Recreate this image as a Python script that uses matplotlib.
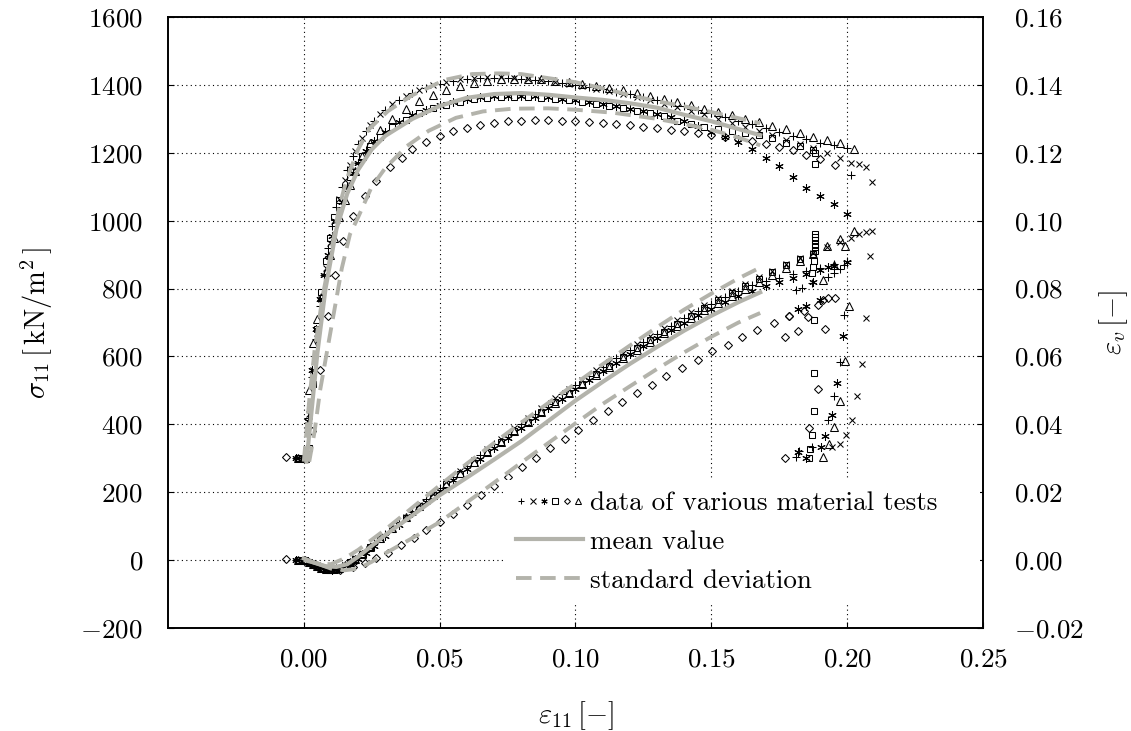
import matplotlib
matplotlib.use("Agg")
import matplotlib.pyplot as plt
from matplotlib.lines import Line2D
from matplotlib.legend_handler import HandlerTuple
from matplotlib.ticker import FuncFormatter, MultipleLocator

plt.rcParams['font.family'] = 'serif'
plt.rcParams['font.serif'] = ['cmr10']
plt.rcParams['mathtext.fontset'] = 'cm'
plt.rcParams['axes.formatter.use_mathtext'] = True

# strain grids used by the test series
eps_a = [-0.003, 0.000, 0.0015, 0.003, 0.0045, 0.006, 0.0075, 0.009, 0.0105, 0.012, 0.014, 0.016,
         0.018, 0.020, 0.023, 0.026, 0.030,
         0.035, 0.040, 0.045, 0.050, 0.055, 0.060, 0.065, 0.070, 0.075, 0.080,
         0.085, 0.090, 0.095, 0.100, 0.105, 0.110, 0.115, 0.120, 0.125, 0.130,
         0.135, 0.140, 0.145, 0.150, 0.155, 0.160, 0.165, 0.170, 0.175, 0.180,
         0.185, 0.190, 0.195, 0.200]
eps_b = [-0.002, 0.0005, 0.002, 0.0035, 0.005, 0.0065, 0.008, 0.0095, 0.011, 0.013, 0.015, 0.017,
         0.019, 0.0215, 0.0245, 0.028, 0.0325,
         0.0375, 0.0425, 0.0475, 0.0525, 0.0575, 0.0625, 0.0675, 0.0725, 0.0775, 0.0825,
         0.0875, 0.0925, 0.0975, 0.1025, 0.1075, 0.1125, 0.1175, 0.1225, 0.1275, 0.1325,
         0.1375, 0.1425, 0.1475, 0.1525, 0.1575, 0.1625, 0.1675, 0.1725, 0.1775, 0.1825,
         0.1875, 0.1925, 0.1975]

# --- sigma_11 [kN/m2] of the six tests ---
plus_sig = [300, 300, 420, 540, 650, 750, 840, 920, 985, 1040, 1100, 1150, 1190, 1225, 1265, 1295, 1325,
            1355, 1375, 1392, 1403, 1411, 1417, 1420, 1421, 1420, 1418,
            1415, 1411, 1406, 1400, 1394, 1387, 1380, 1372, 1364, 1355,
            1346, 1337, 1327, 1317, 1306, 1295, 1284, 1273, 1262, 1250,
            1240, 1230, 1222, 1215]
plus_sig_tail_eps = [0.2015, 0.1989, 0.1974, 0.1953, 0.193, 0.187, 0.1824, 0.181]
plus_sig_tail = [1135, 723, 583, 483, 412, 332, 321, 304]

cross_sig = [300, 300, 430, 560, 670, 770, 860, 935, 1000, 1065, 1120, 1165, 1205, 1245, 1282, 1313, 1343,
             1368, 1386, 1400, 1410, 1417, 1421, 1423, 1423, 1421, 1418,
             1414, 1409, 1403, 1396, 1389, 1381, 1373, 1364, 1355, 1345,
             1335, 1324, 1313, 1301, 1289, 1277, 1265, 1252, 1239, 1226,
             1213, 1198, 1185]
cross_sig_tail_eps = [0.2015, 0.2044, 0.207, 0.209, 0.207, 0.2054, 0.2037, 0.2017, 0.1996, 0.1973, 0.1945]
cross_sig_tail = [1171, 1167, 1159, 1113, 714, 579, 483, 412, 370, 341, 332]

star_sig = [300, 300, 410, 560, 680, 770, 840, 900, 955, 1000, 1055, 1100, 1140, 1170, 1205, 1235, 1262,
            1290, 1310, 1327, 1340, 1350, 1358, 1363, 1366, 1367, 1367,
            1366, 1363, 1359, 1355, 1350, 1344, 1337, 1330, 1322, 1314,
            1305, 1295, 1280, 1262, 1248, 1232, 1212, 1185, 1160, 1128,
            1097, 1073, 1050, 1021]
star_sig_tail_eps = [0.1983, 0.1963, 0.1944, 0.192, 0.1903, 0.1818, 0.185]
star_sig_tail = [660, 522, 429, 365, 333, 318, 300]

square_sig = [300, 300, 330, 520, 680, 790, 880, 950, 1010, 1060, 1095, 1130, 1160, 1190, 1220, 1247, 1275,
              1298, 1316, 1331, 1342, 1351, 1358, 1362, 1364, 1365, 1364,
              1362, 1359, 1355, 1350, 1345, 1338, 1331, 1324, 1316, 1307,
              1294, 1285, 1277, 1270, 1264, 1258, 1252, 1243, 1230, 1220,
              1208]
square_sig_tail_eps = [0.188, 0.188, 0.1879, 0.1879, 0.1879, 0.187, 0.1865, 0.186]
square_sig_tail = [1200, 1167, 706, 550, 439, 370, 326, 300]

diamond_sig_eps = [-0.0065, 0.003, 0.006, 0.009, 0.0115, 0.0143, 0.018, 0.0224, 0.0267, 0.0316, 0.036,
                   0.040, 0.045, 0.050, 0.055, 0.060, 0.065, 0.070, 0.075, 0.080, 0.085,
                   0.090, 0.095, 0.100, 0.105, 0.110, 0.115, 0.120, 0.125, 0.130, 0.135,
                   0.140, 0.145, 0.150, 0.155, 0.160, 0.165, 0.170, 0.175, 0.180, 0.185,
                   0.190, 0.1955]
diamond_sig = [303, 380, 560, 720, 840, 941, 1015, 1073, 1118, 1157, 1186,
               1211, 1233, 1250, 1263, 1273, 1282, 1289, 1293, 1295, 1296,
               1296, 1295, 1293, 1290, 1287, 1284, 1281, 1277, 1272, 1268,
               1263, 1258, 1252, 1246, 1240, 1234, 1226, 1218, 1208, 1195,
               1182, 1165]
diamond_sig_tail_eps = [0.1787, 0.182, 0.177, 0.1894, 0.186, 0.177]
diamond_sig_tail = [718, 676, 656, 503, 388, 300]

tri_sig = [300, 300, 500, 640, 710, 775, 850, 900, 950, 1010, 1060, 1105, 1145, 1190, 1230, 1268, 1300,
           1330, 1352, 1370, 1385, 1397, 1406, 1412, 1416, 1418, 1418,
           1416, 1413, 1409, 1404, 1398, 1391, 1384, 1376, 1367, 1358,
           1349, 1340, 1330, 1320, 1310, 1300, 1290, 1280, 1270, 1259,
           1248, 1238, 1230]
tri_sig_tail_eps = [0.2026, 0.2007, 0.1993, 0.1973, 0.1952, 0.1934, 0.1912]
tri_sig_tail = [1212, 748, 586, 469, 392, 341, 304]

# --- volumetric strain eps_v [-] of the six tests ---
plus_ev = [0.0, 0.0, -0.0004, -0.001, -0.0015, -0.002, -0.0023, -0.0025, -0.0026, -0.0024, -0.0018, -0.001,
           0.0, 0.001, 0.003, 0.005, 0.0078,
           0.0112, 0.0146, 0.0180, 0.0213, 0.0246, 0.0278, 0.0310, 0.0341, 0.0372, 0.0402,
           0.0431, 0.0460, 0.0488, 0.0515, 0.0542, 0.0568, 0.0594, 0.0619, 0.0643, 0.0667,
           0.0690, 0.0712, 0.0734, 0.0755, 0.0775, 0.0794, 0.0810, 0.0822, 0.0832, 0.0842,
           0.0852, 0.0862, 0.0872, 0.0882]
plus_ev_tail_eps = [0.1989, 0.1974, 0.1953, 0.193, 0.187, 0.1835, 0.181]
plus_ev_tail = [0.0870, 0.0858, 0.0845, 0.0835, 0.0815, 0.0803, 0.0797]

cross_ev = [0.0, 0.0, -0.0005, -0.001, -0.0015, -0.002, -0.0023, -0.0025, -0.0025, -0.0022, -0.0015, -0.0005,
            0.0005, 0.002, 0.004, 0.0065, 0.0095,
            0.0128, 0.0162, 0.0196, 0.0229, 0.0262, 0.0295, 0.0327, 0.0358, 0.0389, 0.0419,
            0.0448, 0.0477, 0.0505, 0.0532, 0.0559, 0.0585, 0.0611, 0.0636, 0.0660, 0.0684,
            0.0707, 0.0730, 0.0752, 0.0773, 0.0794, 0.0814, 0.0834, 0.0853, 0.0871, 0.0889,
            0.0906, 0.0922, 0.0937]
cross_ev_tail_eps = [0.2015, 0.2044, 0.207, 0.209, 0.2085]
cross_ev_tail = [0.0950, 0.0960, 0.0966, 0.0970, 0.0897]

star_ev = [0.0, 0.0, -0.0005, -0.001, -0.0016, -0.002, -0.0024, -0.0027, -0.0028, -0.0027, -0.0022, -0.0015,
           -0.0006, 0.0004, 0.0022, 0.0042, 0.0070,
           0.0104, 0.0138, 0.0171, 0.0204, 0.0236, 0.0268, 0.0299, 0.0330, 0.0360, 0.0390,
           0.0419, 0.0448, 0.0476, 0.0503, 0.0530, 0.0556, 0.0582, 0.0607, 0.0631, 0.0655,
           0.0678, 0.0700, 0.0721, 0.0741, 0.0760, 0.0777, 0.0793, 0.0807, 0.0820, 0.0832,
           0.0843, 0.0855, 0.0866, 0.0878]
star_ev_tail_eps = [0.193, 0.1875, 0.19, 0.185, 0.1818]
star_ev_tail = [0.0865, 0.0818, 0.0765, 0.0750, 0.0740]

square_ev = [0.0, 0.0, -0.0006, -0.0012, -0.0018, -0.0023, -0.0026, -0.0028, -0.0027, -0.0023, -0.0016, -0.0007,
             0.0003, 0.0018, 0.0038, 0.0062, 0.0092,
             0.0125, 0.0158, 0.0191, 0.0223, 0.0255, 0.0287, 0.0318, 0.0349, 0.0379, 0.0408,
             0.0437, 0.0465, 0.0493, 0.0520, 0.0547, 0.0573, 0.0599, 0.0624, 0.0649, 0.0673,
             0.0697, 0.0720, 0.0743, 0.0765, 0.0787, 0.0808, 0.0829, 0.0849, 0.0868, 0.0886,
             0.0902]
square_ev_tail_eps = [0.188, 0.188, 0.188, 0.188, 0.188, 0.188, 0.1878, 0.1876, 0.1872]
square_ev_tail = [0.0912, 0.0922, 0.0932, 0.0942, 0.0952, 0.0962, 0.0880, 0.0865, 0.0845]

diamond_ev_eps = [-0.0064, 0.004, 0.009, 0.0135, 0.018, 0.0225, 0.0267, 0.031, 0.0359, 0.0405,
                  0.0451, 0.050, 0.0549, 0.060, 0.0653, 0.0702, 0.075, 0.0804, 0.0855, 0.0907,
                  0.096, 0.1011, 0.1066, 0.1118, 0.1173, 0.1228, 0.1283, 0.1335, 0.1392, 0.145,
                  0.1504, 0.156, 0.1614, 0.1669, 0.1732, 0.1787]
diamond_ev = [0.0003, -0.0012, -0.0025, -0.0028, -0.002, -0.0008, 0.0006, 0.0022, 0.0044, 0.0066,
              0.0088, 0.0112, 0.0137, 0.0163, 0.0191, 0.0218, 0.0245, 0.0273, 0.0301, 0.0329,
              0.0356, 0.0382, 0.0412, 0.0438, 0.0465, 0.0491, 0.0515, 0.0541, 0.0565, 0.0591,
              0.0616, 0.0635, 0.0657, 0.0679, 0.0698, 0.0718]
diamond_ev_tail_eps = [0.184, 0.1857, 0.1894, 0.1912, 0.1931, 0.1954, 0.192]
diamond_ev_tail = [0.0735, 0.0716, 0.0752, 0.0765, 0.0773, 0.0773, 0.0682]

tri_ev = [0.0, 0.0, -0.0005, -0.0011, -0.0017, -0.0022, -0.0025, -0.0027, -0.0026, -0.0022, -0.0015, -0.0006,
          0.0004, 0.0019, 0.0039, 0.0064, 0.0094,
          0.0127, 0.0160, 0.0193, 0.0225, 0.0257, 0.0288, 0.0319, 0.0349, 0.0379, 0.0408,
          0.0436, 0.0464, 0.0491, 0.0518, 0.0544, 0.0570, 0.0595, 0.0620, 0.0644, 0.0668,
          0.0691, 0.0714, 0.0736, 0.0757, 0.0778, 0.0798, 0.0819, 0.0840, 0.0861, 0.0882,
          0.0903, 0.0924, 0.0945]
tri_ev_tail_eps = [0.2026, 0.1993, 0.195, 0.191]
tri_ev_tail = [0.0969, 0.0925, 0.0870, 0.0824]

# --- mean value and standard deviation curves ---
mean_sig_eps = [0.001, 0.003, 0.005, 0.008, 0.012, 0.016, 0.020, 0.025, 0.030, 0.040, 0.050, 0.060,
                0.070, 0.080, 0.090, 0.100, 0.110, 0.120, 0.130, 0.140, 0.150, 0.160, 0.168]
mean_sig = [290, 450, 610, 800, 975, 1080, 1150, 1210, 1250, 1300, 1338, 1362,
            1373, 1376, 1371, 1363, 1356, 1346, 1333, 1312, 1293, 1270, 1252]
std_hi_sig_eps = [0.000, 0.002, 0.004, 0.007, 0.010, 0.013, 0.016, 0.020, 0.024, 0.031, 0.040, 0.052,
                  0.062, 0.072, 0.080, 0.090, 0.100, 0.110, 0.120, 0.130, 0.140, 0.150, 0.160, 0.168]
std_hi_sig = [290, 470, 620, 780, 905, 1040, 1127, 1210, 1270, 1323, 1370, 1415,
              1432, 1434, 1432, 1420, 1408, 1390, 1370, 1352, 1337, 1320, 1302, 1287]
std_lo_sig_eps = [0.002, 0.004, 0.006, 0.008, 0.010, 0.012, 0.014, 0.017, 0.020, 0.025, 0.030, 0.038,
                  0.046, 0.056, 0.066, 0.077, 0.090, 0.100, 0.114, 0.130, 0.140, 0.150, 0.160, 0.168]
std_lo_sig = [290, 380, 500, 590, 680, 770, 860, 960, 1010, 1100, 1155, 1220,
              1265, 1303, 1322, 1330, 1331, 1327, 1318, 1300, 1285, 1268, 1245, 1222]

mean_ev_eps = [0.000, 0.004, 0.008, 0.012, 0.016, 0.020, 0.025, 0.030, 0.040, 0.050, 0.060,
               0.070, 0.080, 0.090, 0.100, 0.110, 0.120, 0.130, 0.140, 0.150, 0.160, 0.168]
mean_ev = [0.0005, -0.0008, -0.0018, -0.002, -0.0012, 0.0010, 0.0042, 0.0074, 0.0132, 0.0191, 0.0243,
           0.0296, 0.0350, 0.0410, 0.0470, 0.0525, 0.0578, 0.0628, 0.0676, 0.0720, 0.0760, 0.0789]
std_hi_ev_eps = [0.000, 0.005, 0.010, 0.015, 0.020, 0.030, 0.040, 0.050, 0.060, 0.070,
                 0.080, 0.090, 0.100, 0.110, 0.120, 0.130, 0.140, 0.150, 0.160, 0.168]
std_hi_ev = [0.000, -0.001, -0.0012, 0.0005, 0.003, 0.009, 0.0155, 0.0220, 0.0284, 0.0345,
             0.0405, 0.0463, 0.0520, 0.0577, 0.0632, 0.0686, 0.0738, 0.0785, 0.0830, 0.0862]
std_lo_ev_eps = [0.005, 0.010, 0.015, 0.020, 0.025, 0.030, 0.040, 0.050, 0.060, 0.070,
                 0.080, 0.090, 0.100, 0.110, 0.120, 0.130, 0.140, 0.150, 0.160, 0.168]
std_lo_ev = [-0.001, -0.0025, -0.003, -0.0025, -0.0005, 0.002, 0.0065, 0.0112, 0.0170, 0.0228,
             0.0287, 0.0345, 0.0403, 0.0460, 0.0512, 0.0563, 0.0612, 0.0658, 0.0700, 0.0728]

GRAY = '#b3b3ab'
FS = 19.5

fig = plt.figure(figsize=(11.31, 7.31), dpi=100)
ax = fig.add_axes([0.1485, 0.1409, 0.7206, 0.8358])
ax2 = ax.twinx()

mk = dict(linestyle='none', color='black', markerfacecolor='none', markeredgewidth=0.75)
series = [
    ('+', 6, eps_a, plus_sig, plus_sig_tail_eps, plus_sig_tail, eps_a, plus_ev, plus_ev_tail_eps, plus_ev_tail),
    ('x', 5, eps_b, cross_sig, cross_sig_tail_eps, cross_sig_tail, eps_b, cross_ev, cross_ev_tail_eps, cross_ev_tail),
    ((6, 2, 0), 6, eps_a, star_sig, star_sig_tail_eps, star_sig_tail, eps_a, star_ev, star_ev_tail_eps, star_ev_tail),
    ('s', 5, eps_b, square_sig, square_sig_tail_eps, square_sig_tail, eps_b, square_ev, square_ev_tail_eps, square_ev_tail),
    ('D', 4, diamond_sig_eps, diamond_sig, diamond_sig_tail_eps, diamond_sig_tail,
     diamond_ev_eps, diamond_ev, diamond_ev_tail_eps, diamond_ev_tail),
    ('^', 6, eps_b, tri_sig, tri_sig_tail_eps, tri_sig_tail, eps_b, tri_ev, tri_ev_tail_eps, tri_ev_tail),
]
handles = []
for m, ms, e1, s1, te1, ts1, e2, v2, te2, tv2 in series:
    ax.plot(e1[:len(s1)], s1, marker=m, markersize=ms, **mk)
    ax.plot(te1, ts1, marker=m, markersize=ms, **mk)
    ax2.plot(e2[:len(v2)], v2, marker=m, markersize=ms, **mk)
    ax2.plot(te2, tv2, marker=m, markersize=ms, **mk)
    handles.append(Line2D([], [], marker=m, markersize=ms * 0.75, **mk))

dash = (4, 2.2)
ax.plot(mean_sig_eps, mean_sig, color=GRAY, lw=3)
ax.plot(std_hi_sig_eps, std_hi_sig, color=GRAY, lw=2.8, dashes=dash)
ax.plot(std_lo_sig_eps, std_lo_sig, color=GRAY, lw=2.8, dashes=dash)
ax2.plot(mean_ev_eps, mean_ev, color=GRAY, lw=3)
ax2.plot(std_hi_ev_eps, std_hi_ev, color=GRAY, lw=2.8, dashes=dash)
ax2.plot(std_lo_ev_eps, std_lo_ev, color=GRAY, lw=2.8, dashes=dash)

ax.set_xlim(-0.05, 0.25)
ax.set_ylim(-200, 1600)
ax2.set_ylim(-0.02, 0.16)
ax.set_xticks([0.0, 0.05, 0.10, 0.15, 0.20, 0.25])
ax.yaxis.set_major_locator(MultipleLocator(200))
ax2.yaxis.set_major_locator(MultipleLocator(0.02))
ax.xaxis.set_major_formatter(FuncFormatter(lambda v, p: r'$\mathdefault{%.2f}$' % v))
ax2.yaxis.set_major_formatter(FuncFormatter(lambda v, p: r'$\mathdefault{%.2f}$' % v))
ax.grid(True, color='black', linestyle=(0, (1, 3)), linewidth=0.8)

ax.tick_params(axis='both', direction='in', length=4, labelsize=FS, pad=14)
ax.tick_params(axis='y', pad=18)
ax2.tick_params(axis='y', direction='in', length=4, labelsize=FS, pad=22)
for a in (ax, ax2):
    for s in a.spines.values():
        s.set_linewidth(1.2)

ax.set_xlabel(r'$\varepsilon_{11}\,[-]$', fontsize=FS + 1, labelpad=20)
ax.set_ylabel(r'$\sigma_{11}\,[\,\mathrm{kN/m^2}\,]$', fontsize=FS + 1, labelpad=18)
ax2.set_ylabel(r'$\varepsilon_v\,[-]$', fontsize=FS + 1, labelpad=10)

leg_handles = [tuple(handles),
               Line2D([], [], color=GRAY, lw=3),
               Line2D([], [], color=GRAY, lw=2.8, dashes=dash)]
leg = ax2.legend(leg_handles,
                 ['data of various material tests', 'mean value', 'standard deviation'],
                 handler_map={tuple: HandlerTuple(ndivide=None, pad=0.0)},
                 loc='lower left', bbox_to_anchor=(0.4135, 0.040, 0.583, 0.221), mode='expand',
                 borderaxespad=0, fontsize=FS, frameon=True, fancybox=False, framealpha=1,
                 handlelength=2.5, handletextpad=0.25, labelspacing=0.55, borderpad=0.4,
                 numpoints=1)
leg.get_frame().set_edgecolor('none')
leg.get_frame().set_facecolor('white')

fig.savefig('out.png', dpi=100)
